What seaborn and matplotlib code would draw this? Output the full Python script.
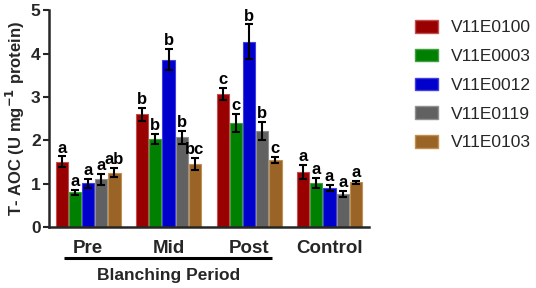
import matplotlib
matplotlib.use("Agg")
import matplotlib.pyplot as plt
import seaborn as sns
import pandas as pd
import numpy as np
from matplotlib.patches import Patch
import matplotlib.transforms as mtransforms

groups = ["Pre", "Mid", "Post", "Control"]
cultivars = ["V11E0100", "V11E0003", "V11E0012", "V11E0119", "V11E0103"]
colors = ["#990000", "#008000", "#0000CC", "#616161", "#9A6426"]
edges = ["#C05050", "#40A040", "#4040E0", "#909090", "#C09050"]

means = {
    "V11E0100": [1.51, 2.60, 3.06, 1.27],
    "V11E0003": [0.80, 2.03, 2.40, 1.02],
    "V11E0012": [1.01, 3.86, 4.27, 0.91],
    "V11E0119": [1.10, 2.07, 2.22, 0.77],
    "V11E0103": [1.26, 1.45, 1.55, 1.03],
}
errs = {
    "V11E0100": [0.12, 0.15, 0.14, 0.17],
    "V11E0003": [0.06, 0.12, 0.20, 0.12],
    "V11E0012": [0.10, 0.24, 0.40, 0.07],
    "V11E0119": [0.12, 0.15, 0.20, 0.07],
    "V11E0103": [0.10, 0.14, 0.07, 0.03],
}
letters = {
    "V11E0100": ["a", "b", "c", "a"],
    "V11E0003": ["a", "b", "c", "a"],
    "V11E0012": ["a", "b", "b", "a"],
    "V11E0119": ["a", "b", "b", "a"],
    "V11E0103": ["ab", "bc", "c", "a"],
}

rows = []
for c in cultivars:
    for i, g in enumerate(groups):
        rows.append({"group": g, "cultivar": c, "value": means[c][i]})
df = pd.DataFrame(rows)

sns.set_theme(style="ticks")
plt.rcParams["font.family"] = ["Liberation Sans", "DejaVu Sans"]

fig = plt.figure(figsize=(5.36, 2.88), dpi=100)
ax = fig.add_axes([0.0914, 0.211, 0.597, 0.754])

sns.barplot(data=df, x="group", y="value", hue="cultivar", order=groups,
            hue_order=cultivars, palette=colors, width=0.82, gap=0.08,
            errorbar=None, ax=ax, legend=False, saturation=1)

for ci, c in enumerate(cultivars):
    cont = ax.containers[ci]
    for gi, bar in enumerate(cont):
        bar.set_edgecolor(edges[ci])
        bar.set_linewidth(0.8)
        xc = bar.get_x() + bar.get_width() / 2
        h = bar.get_height()
        e = errs[c][gi]
        ax.errorbar(xc, h, yerr=e, fmt="none", ecolor="black", elinewidth=1.5,
                    capsize=3, capthick=1.5, zorder=5)
        ax.text(xc, h + e + 0.02, letters[c][gi], ha="center", va="bottom",
                fontsize=12, fontweight="bold", color="black")

ax.set_ylim(0, 5)
ax.set_xlim(-0.485, 3.49)
ax.set_yticks([0, 1, 2, 3, 4, 5])
ax.set_xlabel("")
ax.set_ylabel("T- AOC (U mg$^{\\mathbf{-1}}$ protein)", fontsize=12, fontweight="bold", labelpad=3)
ax.tick_params(axis="y", labelsize=12.5, width=1.5, length=4, pad=2)
ax.tick_params(axis="x", labelsize=13.5, length=0, pad=9)
for lab in ax.get_xticklabels() + ax.get_yticklabels():
    lab.set_fontweight("bold")
for s in ["left", "bottom"]:
    ax.spines[s].set_linewidth(1.8)
sns.despine(ax=ax)

trans = mtransforms.blended_transform_factory(ax.transData, ax.transAxes)
ax.plot([-0.30, 2.29], [-0.141, -0.141], color="black", lw=2.2,
        transform=trans, clip_on=False, solid_capstyle="butt")
ax.text(1.0, -0.19, "Blanching Period", transform=trans, ha="center", va="top",
        fontsize=12.5, fontweight="bold")

handles = [Patch(facecolor=colors[i], edgecolor=edges[i], label=cultivars[i])
           for i in range(len(cultivars))]
fig.legend(handles=handles, loc="upper left", bbox_to_anchor=(0.746, 0.985),
           frameon=False, fontsize=12.5, handlelength=1.32, handleheight=0.75,
           labelspacing=0.77, handletextpad=0.7)

fig.savefig("out.png", dpi=100)
